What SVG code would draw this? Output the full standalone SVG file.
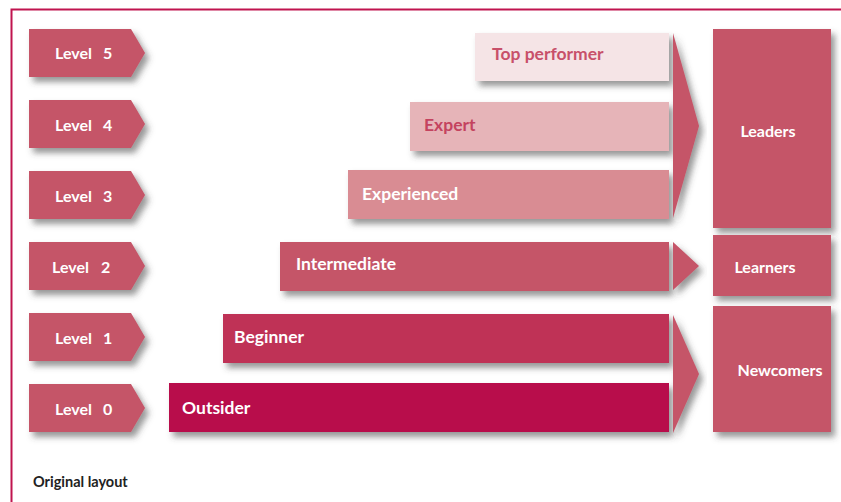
<svg xmlns="http://www.w3.org/2000/svg" width="841" height="502" viewBox="0 0 841 502">
<defs>
<filter id="sh" x="-20%" y="-20%" width="150%" height="160%">
<feDropShadow dx="4" dy="5" stdDeviation="3" flood-color="#444" flood-opacity="0.55"/>
</filter>
<style>
text{font-family:Lato,"Liberation Sans",sans-serif;font-weight:bold;font-size:16px}
.bt{font-size:17.5px}
.w{fill:#fff}
.lvl{fill:#c55468;filter:url(#sh)}
.arr{fill:#c55468;filter:url(#sh)}
.bar{filter:url(#sh)}
</style>
</defs>
<rect width="841" height="502" fill="#fff"/>
<path d="M11.5 502V9.5H841" fill="none" stroke="#c0144f" stroke-width="2"/>

<g id="level5"><polygon class="lvl" points="29,29 131,29 145,53 131,77 29,77"/><text class="w" x="55" y="59">Level<tspan x="103">5</tspan></text></g>
<g id="level4"><polygon class="lvl" points="29,100 131,100 145,124 131,148 29,148"/><text class="w" x="55" y="131">Level<tspan x="103">4</tspan></text></g>
<g id="level3"><polygon class="lvl" points="29,171 131,171 145,195 131,219 29,219"/><text class="w" x="55" y="202">Level<tspan x="103">3</tspan></text></g>
<g id="level2"><polygon class="lvl" points="29,242 131,242 145,266 131,290 29,290"/><text class="w" x="52" y="273">Level<tspan x="101">2</tspan></text></g>
<g id="level1"><polygon class="lvl" points="29,313 131,313 145,337 131,361 29,361"/><text class="w" x="55" y="344">Level<tspan x="103">1</tspan></text></g>
<g id="level0"><polygon class="lvl" points="29,384 131,384 145,408 131,432 29,432"/><text class="w" x="55" y="415">Level<tspan x="103">0</tspan></text></g>

<g id="top-performer"><rect class="bar" x="475" y="33" width="194" height="48" fill="#f5e4e6"/><text class="bt" x="492" y="60" fill="#c8506a">Top performer</text></g>
<g id="expert"><rect class="bar" x="410" y="102" width="259" height="49" fill="#e6b4b8"/><text class="bt" x="424" y="131" fill="#c4435f">Expert</text></g>
<g id="experienced"><rect class="bar" x="348" y="170" width="321" height="49" fill="#d98c93"/><text class="w bt" x="362" y="200">Experienced</text></g>
<g id="intermediate"><rect class="bar" x="280" y="242" width="389" height="49" fill="#c55468"/><text class="w bt" x="296" y="270">Intermediate</text></g>
<g id="beginner"><rect class="bar" x="223" y="314" width="446" height="49" fill="#bf3057"/><text class="w bt" x="234" y="343">Beginner</text></g>
<g id="outsider"><rect class="bar" x="169" y="383" width="500" height="49" fill="#b80a4b"/><text class="w bt" x="182" y="414">Outsider</text></g>

<g id="connectors">
<polygon class="arr" points="673,33 699,126 673,218"/>
<polygon class="arr" points="673,242 699,266 673,290"/>
<polygon class="arr" points="673,315 699,374 673,433"/>
</g>

<g id="leaders"><rect class="bar" x="713" y="29" width="118" height="199" fill="#c55468"/><text class="w" x="768" y="137" text-anchor="middle">Leaders</text></g>
<g id="learners"><rect class="bar" x="713" y="235" width="118" height="61" fill="#c55468"/><text class="w" x="765" y="273" text-anchor="middle">Learners</text></g>
<g id="newcomers"><rect class="bar" x="713" y="306" width="118" height="126" fill="#c55468"/><text class="w" x="780" y="376" text-anchor="middle">Newcomers</text></g>

<text x="33" y="487" fill="#222" style="font-size:14.5px">Original layout</text>
</svg>
